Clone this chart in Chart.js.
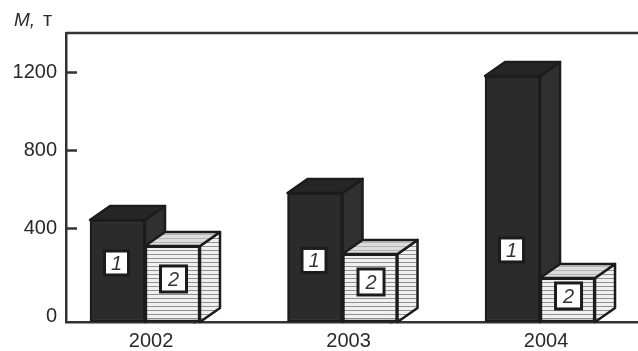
<!DOCTYPE html>
<html>
<head>
<meta charset="utf-8">
<title>M, т</title>
<script src="https://cdn.jsdelivr.net/npm/chart.js@4"></script>
<style>
  html, body { margin: 0; padding: 0; background: #fff; }
  #wrap { width: 638px; height: 351px; position: relative; }
</style>
</head>
<body>
<div id="wrap"><canvas id="myChart"></canvas></div>
<script>
const years = ["2002", "2003", "2004"];
const xSlots = [0, 1, 2];
const series1 = [446, 585, 1185];
const series2 = [313, 272, 149];
const yTicks = [0, 400, 800, 1200];

// axis runs below zero: the baseline sits lower than the 0 label
const yMin = -77;
const yMax = 1405;

// shift of the number boxes from the middle of each bar
const boxShift1 = [-8, 3, 51];
const boxShift2 = [-5, -6, -4];
const boxSize = [24, 26];

const ink = '#1c1c1c';
const depthX = 20;
const depthY = 14;

function stripes(light, dark) {
  const c = document.createElement('canvas');
  c.width = 4;
  c.height = 4;
  const g = c.getContext('2d');
  g.fillStyle = light;
  g.fillRect(0, 0, 4, 4);
  g.fillStyle = dark;
  g.fillRect(0, 2, 4, 1);
  return g.createPattern(c, 'repeat');
}

const hatchFront = stripes('#f0f0f0', '#8f8f8f');
const hatchTop = stripes('#dcdcdc', '#b4b4b4');

function face(ctx, pts, fill) {
  ctx.beginPath();
  pts.forEach((p, i) => i ? ctx.lineTo(p[0], p[1]) : ctx.moveTo(p[0], p[1]));
  ctx.closePath();
  ctx.fillStyle = fill;
  ctx.fill();
  ctx.stroke();
}

// side and top faces behind the flat bars
const boxFaces = {
  id: 'boxFaces',
  beforeDatasetsDraw(chart) {
    const ctx = chart.ctx;
    ctx.save();
    ctx.strokeStyle = ink;
    ctx.lineWidth = 2.5;
    ctx.lineJoin = 'round';
    [0, 1].forEach(d => {
      chart.getDatasetMeta(d).data.forEach(bar => {
        const l = bar.x - bar.width / 2;
        const r = bar.x + bar.width / 2;
        const side = d ? hatchFront : '#303030';
        const top = d ? hatchTop : '#262626';
        face(ctx, [[r, bar.y], [r + depthX, bar.y - depthY], [r + depthX, bar.base - depthY], [r, bar.base]], side);
        face(ctx, [[l, bar.y], [l + depthX, bar.y - depthY], [r + depthX, bar.y - depthY], [r, bar.y]], top);
      });
    });
    ctx.restore();
  },
  afterDatasetsDraw(chart) {
    const ctx = chart.ctx;
    ctx.save();
    [boxShift1, boxShift2].forEach((shift, d) => {
      const half = boxSize[d] / 2;
      chart.getDatasetMeta(d).data.forEach((bar, i) => {
        const cx = bar.x + (d ? 1 : -1);
        const cy = (bar.y + bar.base) / 2 + shift[i];
        ctx.fillStyle = '#fff';
        ctx.strokeStyle = ink;
        ctx.lineWidth = 3;
        ctx.fillRect(cx - half, cy - half, half * 2, half * 2);
        ctx.strokeRect(cx - half, cy - half, half * 2, half * 2);
        ctx.fillStyle = '#333';
        ctx.font = 'italic 20px "Liberation Sans"';
        ctx.textAlign = 'center';
        ctx.textBaseline = 'middle';
        ctx.fillText(String(d + 1), cx, cy + 1);
      });
    });
    ctx.restore();
  },
  // top edge of the frame and the unit label
  afterDraw(chart) {
    const ctx = chart.ctx;
    const a = chart.chartArea;
    ctx.save();
    ctx.strokeStyle = '#333';
    ctx.lineWidth = 2.5;
    ctx.beginPath();
    ctx.moveTo(a.left, a.top);
    ctx.lineTo(a.right, a.top);
    ctx.stroke();
    ctx.fillStyle = '#2a2a2a';
    ctx.textBaseline = 'alphabetic';
    ctx.font = 'italic 19px "Liberation Sans"';
    ctx.fillText('M,', 14, 26);
    ctx.font = '20px "Liberation Sans"';
    ctx.fillText('т', 43, 26);
    ctx.restore();
  }
};

const data = {
  labels: xSlots,
  datasets: [{
    label: '1',
    data: series1,
    base: yMin,
    backgroundColor: '#2b2b2b',
    borderColor: ink,
    borderWidth: 2.5,
    borderSkipped: false,
    barThickness: 55
  }, {
    label: '2',
    data: series2,
    base: yMin,
    backgroundColor: hatchFront,
    borderColor: ink,
    borderWidth: 2.5,
    borderSkipped: false,
    barThickness: 55
  }]
};

const config = {
  type: 'bar',
  data: data,
  plugins: [boxFaces],
  options: {
    responsive: true,
    maintainAspectRatio: false,
    animation: false,
    layout: { padding: { top: 33 } },
    plugins: { legend: { display: false }, tooltip: { enabled: false } },
    scales: {
      x: {
        type: 'linear',
        offset: false,
        min: -0.4,
        max: 2.496,
        afterFit: s => { s.height = 29; s.paddingLeft = 0; s.paddingRight = 0; },
        afterBuildTicks: s => { s.ticks = [0, 0.5, 1, 1.5, 2].map(v => ({ value: v })); },
        border: { color: '#333', width: 2.5 },
        grid: {
          drawOnChartArea: false,
          tickLength: -6,
          tickWidth: 2.5,
          tickColor: c => c.tick && !Number.isInteger(c.tick.value) ? '#333' : 'rgba(0,0,0,0)'
        },
        ticks: {
          autoSkip: false,
          maxRotation: 0,
          padding: 13,
          labelOffset: 6,
          color: '#2a2a2a',
          font: { family: 'Liberation Sans', size: 20 },
          callback: v => Number.isInteger(v) ? years[v] : ''
        }
      },
      y: {
        min: yMin,
        max: yMax,
        afterFit: s => { s.width = 66; s.paddingTop = 0; s.paddingBottom = 0; },
        afterBuildTicks: s => { s.ticks = yTicks.map(v => ({ value: v })); },
        border: { color: '#333', width: 2.5 },
        grid: {
          drawOnChartArea: false,
          tickLength: -11,
          tickWidth: 2.5,
          tickColor: c => c.tick && c.tick.value !== 0 ? '#333' : 'rgba(0,0,0,0)'
        },
        ticks: {
          padding: 20,
          color: '#2a2a2a',
          font: { family: 'Liberation Sans', size: 20, lineHeight: 0.9 },
          // blank first line pushes the zero down beside the baseline
          callback: v => v === 0 ? ['', '0'] : String(v)
        }
      }
    }
  }
};

const myChart = new Chart(document.getElementById('myChart'), config);
</script>
</body>
</html>
